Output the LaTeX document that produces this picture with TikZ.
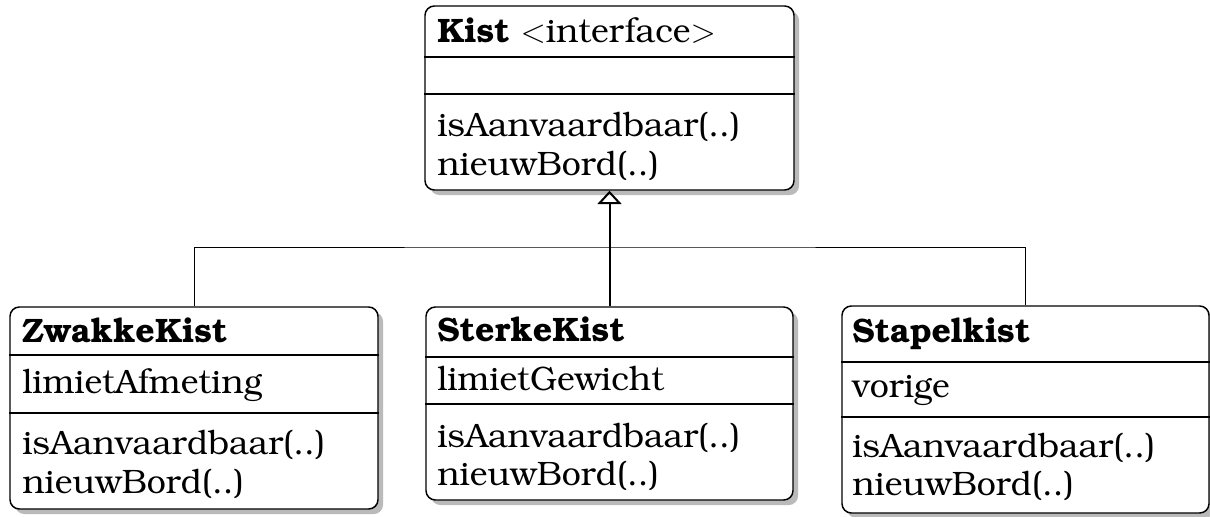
\documentclass[tikz,border=0pt]{standalone}
\usepackage[T1]{fontenc}
\usepackage{bookman}
\usetikzlibrary{shadows,arrows.meta,fit}
\begin{document}
\begin{tikzpicture}[x=0.75pt,y=-0.75pt,
  cls/.style={draw, line width=1.1pt, rounded corners=7pt, fill=white, inner sep=0pt,
    drop shadow={shadow xshift=3.8pt, shadow yshift=-3.8pt, fill=black!27, opacity=1}},
  txt/.style={anchor=base west, inner sep=0pt, font=\fontsize{25.4}{28.5}\selectfont},
  sep/.style={line width=0.8pt},
  conn/.style={line width=0.75pt},
  inherit/.style={line width=1.5pt, -{Triangle[open,width=18pt,length=10pt]}}]
\useasboundingbox (0,0) rectangle (1210,517);

% boxes
\node[cls, fit={(425,6)(794,190)}] (kist) {};
\node[cls, fit={(10,307)(378,509)}] (zwakke) {};
\node[cls, fit={(426,307)(793,500)}] (sterke) {};
\node[cls, fit={(842,306)(1209,513)}] (stapel) {};

% dividers
\draw[sep] (kist.west |- 0,57) -- (kist.east |- 0,57);
\draw[sep] (kist.west |- 0,94) -- (kist.east |- 0,94);
\draw[sep] (zwakke.west |- 0,355) -- (zwakke.east |- 0,355);
\draw[sep] (zwakke.west |- 0,413) -- (zwakke.east |- 0,413);
\draw[sep] (sterke.west |- 0,357) -- (sterke.east |- 0,357);
\draw[sep] (sterke.west |- 0,404) -- (sterke.east |- 0,404);
\draw[sep] (stapel.west |- 0,362) -- (stapel.east |- 0,362);
\draw[sep] (stapel.west |- 0,417) -- (stapel.east |- 0,417);

% texts
\node[txt] (kistname) at (437,43) {\textbf{Kist} $<$interface$>$};
\node[txt] (kistm1) at (437,137) {isAanvaardbaar(..)};
\node[txt] (kistm2) at (437,175) {nieuwBord(..)};

\node[txt] (zwname) at (22,342) {\textbf{ZwakkeKist}};
\node[txt] (zwattr) at (22,393) {limietAfmeting};
\node[txt] (zwm1) at (22,454) {isAanvaardbaar(..)};
\node[txt] (zwm2) at (22,493) {nieuwBord(..)};

\node[txt] (stname) at (437,341) {\textbf{SterkeKist}};
\node[txt] (stattr) at (437,390) {limietGewicht};
\node[txt] (stm1) at (437,447) {isAanvaardbaar(..)};
\node[txt] (stm2) at (437,485) {nieuwBord(..)};

\node[txt] (spname) at (852,342) {\textbf{Stapelkist}};
\node[txt] (spattr) at (852,397) {vorige};
\node[txt] (spm1) at (852,457) {isAanvaardbaar(..)};
\node[txt] (spm2) at (852,495) {nieuwBord(..)};

% connectors
\coordinate (bus) at (610,247);
\draw[conn] (zwakke.north) |- (bus) -| (stapel.north);
\draw[inherit] (sterke.north) -- (kist.south);
\end{tikzpicture}
\end{document}
